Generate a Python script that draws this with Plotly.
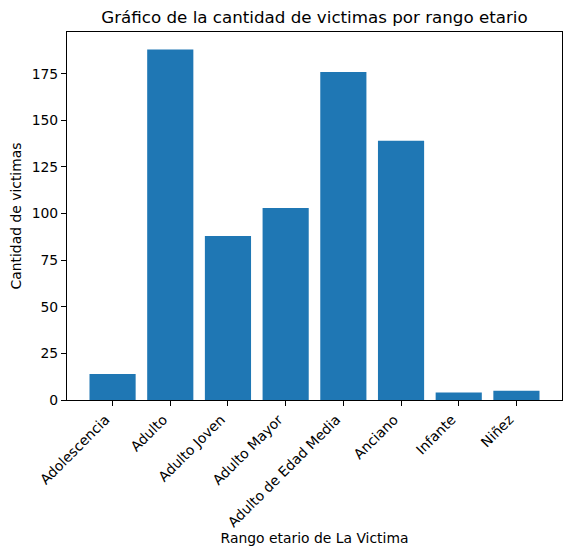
import plotly.graph_objects as go

categorias = ["Adolescencia", "Adulto", "Adulto Joven", "Adulto Mayor",
              "Adulto de Edad Media", "Anciano", "Infante", "Niñez"]
victimas = [14, 188, 88, 103, 176, 139, 4, 5]
y_ticks = [0, 25, 50, 75, 100, 125, 150, 175]

FONT = "DejaVu Sans, sans-serif"

# the page body has an 8px margin, so the figure is made 8px smaller
W, H = 563, 549

fig = go.Figure(
    go.Bar(
        x=list(range(len(categorias))),
        y=victimas,
        width=0.8,
        marker={"color": "#1f77b4", "line": {"width": 0}},
    )
)

axis_common = dict(
    showline=True, linecolor="black", linewidth=1.1, mirror=True,
    showgrid=False, zeroline=False, automargin=False,
    ticks="outside", ticklen=5, tickwidth=1.1, tickcolor="black",
    tickfont={"family": FONT, "size": 13.9, "color": "black"},
)

fig.update_xaxes(
    range=[-0.79, len(categorias) - 1 + 0.79],
    tickmode="array",
    tickvals=list(range(len(categorias))),
    ticktext=categorias,
    tickangle=-45,
    ticklabelshift=-7,
    title={"text": "Rango etario de La Victima", "standoff": 3,
           "font": {"family": FONT, "size": 13.9, "color": "black"}},
    **axis_common,
)
fig.update_yaxes(
    range=[0, max(victimas) * 1.05],
    tickmode="array",
    tickvals=y_ticks,
    title={"text": "Cantidad de victimas", "standoff": 8,
           "font": {"family": FONT, "size": 13.9, "color": "black"}},
    **axis_common,
)

fig.update_layout(
    width=W,
    height=H,
    margin={"l": 59, "r": 9, "t": 24, "b": 157, "autoexpand": False},
    paper_bgcolor="white",
    plot_bgcolor="white",
    showlegend=False,
    title={"text": "Gráfico de la cantidad de victimas por rango etario",
           "x": (59 + (W - 9)) / 2 / W, "xanchor": "center", "y": 1 - 9 / H, "yanchor": "middle",
           "font": {"family": FONT, "size": 16.7, "color": "black"}},
)

fig.write_html("out.html")
